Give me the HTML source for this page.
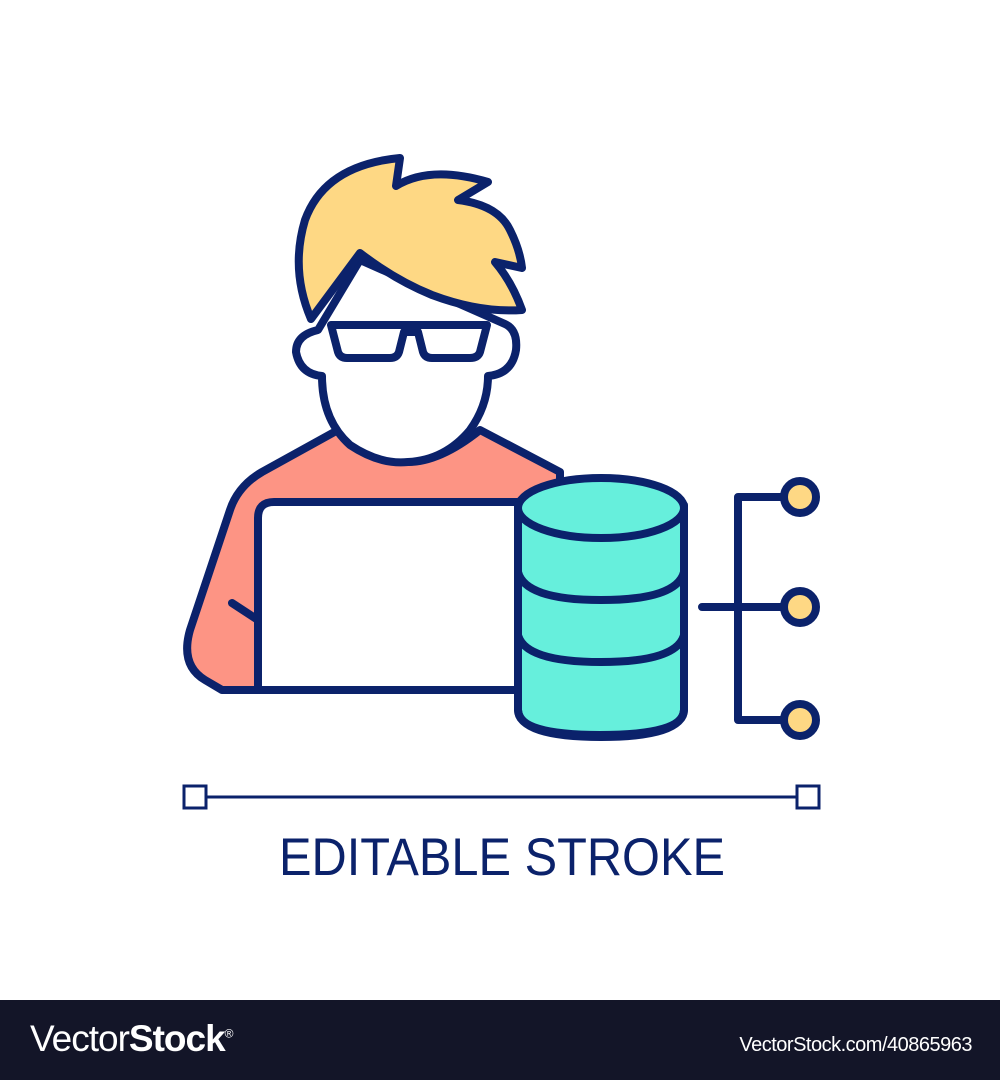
<!DOCTYPE html>
<html><head><style>
html,body{margin:0;padding:0;background:#fff;}
body{width:1000px;height:1080px;position:relative;overflow:hidden;font-family:"Liberation Sans",sans-serif;}
.foot{position:absolute;left:0;top:1000px;width:1000px;height:80px;background:#131528;color:#fff;}
</style></head><body>
<svg width="1000" height="1000" viewBox="0 0 1000 1000" style="position:absolute;left:0;top:0">
<g stroke="#0b226b" stroke-width="8" stroke-linejoin="round" stroke-linecap="round">
<path d="M338 430 L262 472 Q238 486 230 510 L190 630 Q180 665 205 680 L222 690 L560 690 L560 472 L480 430 Q440 462 408 462 Q370 462 338 430 Z" fill="#fd9484"/>
<path d="M318 330 Q296 335 296 352 Q300 374 322 376 Q322 420 350 445 Q380 465 408 462 Q445 460 470 430 Q488 405 488 376 Q512 374 516 350 Q518 330 505 324 L360 260 Z" fill="#fff"/>
<path d="M311 319 Q290 270 305 220 Q325 165 400 158 L396 186 Q430 165 488 182 L458 200 Q498 205 510 230 Q520 250 522 268 L495 262 Q512 282 522 310 Q480 313 432 295 Q395 280 360 253 Z" fill="#fed884"/>
<path d="M331 325 L487 325 L480 352 Q478 358 470 358 L432 358 Q425 358 423 352 L418 332 L404 332 L399 352 Q397 358 390 358 L347 358 Q340 358 338 352 Z" fill="#fff"/>
<line x1="232" y1="603" x2="258" y2="620"/>
<path d="M258 690 L258 518 Q258 502 274 502 L520 502 L520 690 Z" fill="#fff"/>
<path d="M518 510 L518 710 Q518 735 600 735 Q684 735 684 710 L684 510 Z" fill="#66efdc"/>
<ellipse cx="601" cy="508" rx="83" ry="30" fill="#66efdc"/>
<path d="M518 572 Q525 600 601 600 Q677 600 684 572" fill="none"/>
<path d="M518 635 Q525 662 601 662 Q677 662 684 635" fill="none"/>
<path d="M518 505 L518 710 Q520 737 601 737 Q682 737 684 710 L684 505" fill="none"/>
<path d="M783 497 L738 497 L738 720 L783 720 M702 607 L783 607" fill="none"/>
<circle cx="800" cy="497" r="16" fill="#fed884"/>
<circle cx="800" cy="607" r="16" fill="#fed884"/>
<circle cx="800" cy="720" r="16" fill="#fed884"/>
</g>
<g stroke="#0b226b" stroke-width="3" fill="#fff">
<line x1="206" y1="797" x2="797" y2="797"/>
<rect x="184" y="786" width="22" height="22"/>
<rect x="797" y="786" width="22" height="22"/>
</g>
<text x="279" y="875" font-family="Liberation Sans, sans-serif" font-size="53" fill="#0b226b" textLength="446" lengthAdjust="spacingAndGlyphs">EDITABLE STROKE</text>
</svg>
<div class="foot">
<div style="position:absolute;left:30px;top:18px;font-size:37px;letter-spacing:-1px;"><span style="font-weight:300">Vector</span><b>Stock</b><sup style="font-size:12px">®</sup></div>
<div style="position:absolute;right:28px;top:34px;font-size:20px;letter-spacing:-0.5px;">VectorStock.com/40865963</div>
</div>
</body></html>
